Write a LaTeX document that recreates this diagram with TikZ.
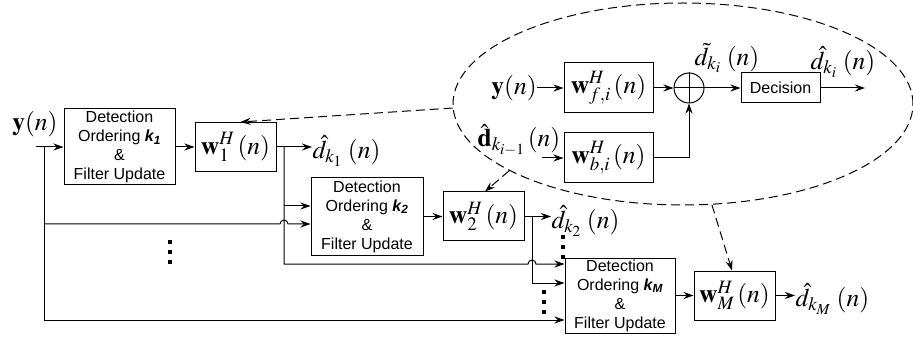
\documentclass[tikz,border=0pt]{standalone}
\usepackage{mathptmx}
\usepackage[no-math]{fontspec}
\setsansfont{Liberation Sans}
\usepackage{tikz}
\usetikzlibrary{positioning, shapes.geometric, arrows.meta, calc}

\newcommand{\eqsize}{\fontsize{25.5}{29}\selectfont}
\newcommand{\kk}[1]{{\bfseries\itshape k\textsubscript{#1}}}

\begin{document}
\begin{tikzpicture}[
        x=1pt, y=-1pt,
        line width=1pt,
        every node/.style={inner sep=0pt},
        detbox/.style={draw, font=\fontsize{16}{19}\selectfont\sffamily, align=center, minimum width=111, minimum height=76},
        wbox/.style={draw, font=\eqsize, minimum width=81, minimum height=49},
        decbox/.style={draw, font=\fontsize{16}{19}\selectfont\sffamily, minimum width=79, minimum height=30},
        sumc/.style={draw, circle, minimum size=30},
        lab/.style={font=\eqsize},
        arr/.style={-{Stealth[length=10pt, width=7pt]}},
        dsh/.style={dash pattern=on 9pt off 5pt}
    ]
    \useasboundingbox (0,0) rectangle (913,339);

    % Nodes -----------------------------------------------
    \node[lab] (yn) at (35,124) {$\mathbf{y}(n)$};
    \node[detbox] (det1) at (119.5,147) {Detection\\Ordering \kk{1}\\\&\\Filter Update};
    \node[wbox] (w1) at (235.5,147) {$\mathbf{w}_1^H\,(n)$};
    \node[detbox, minimum width=112, minimum height=77] (det2) at (367,216.5) {Detection\\Ordering \kk{2}\\\&\\Filter Update};
    \node[wbox] (w2) at (483.5,216.5) {$\mathbf{w}_2^H\,(n)$};
    \node[detbox, minimum width=110, minimum height=75] (detM) at (620,295.5) {Detection\\Ordering \kk{M}\\\&\\Filter Update};
    \node[wbox] (wM) at (734.5,295.5) {$\mathbf{w}_M^H\,(n)$};

    \node[lab, anchor=west] (dk1) at (312,151) {$\hat{d}_{k_1}\;(n)$};
    \node[lab, anchor=west] (dk2) at (551,221) {$\hat{d}_{k_2}\;(n)$};
    \node[lab, anchor=west] (dkM) at (795,299) {$\hat{d}_{k_M}\;(n)$};

    % bus taps and inputs
    \coordinate (yin) at (36,147);
    \coordinate (busA) at (44,147);
    \coordinate (busB) at (284,147);
    \coordinate (busC) at (532,216.5);
    \coordinate (in2a) at ($(det2.west)+(0,-10.5)$);
    \coordinate (in2b) at ($(det2.west)+(0,7.5)$);
    \coordinate (inMa) at ($(detM.west)+(0,-31.5)$);
    \coordinate (inMb) at ($(detM.west)+(0,-12.5)$);
    \coordinate (inMc) at ($(detM.west)+(0,24.5)$);

    % main chain
    \draw[arr] (yin) -- (det1.west);
    \draw[arr] (det1) -- (w1);
    \draw[arr] (det2) -- (w2);
    \draw[arr] (detM) -- (wM);
    \draw[arr] (w1.east) -- (w1.east -| dk1.west);
    \draw[arr] (w2.east) -- (w2.east -| dk2.west);
    \draw[arr] (wM.east) -- (wM.east -| dkM.west);

    % feed lines
    \draw[arr] (busA) |- (inMc);
    \draw[arr] (busA |- in2b) -- ($(busB |- in2b)+(-4,0)$) arc[start angle=180, end angle=0, radius=4pt] -- (in2b);
    \draw[arr] (busB |- in2a) -- (in2a);
    \draw[arr] (busB) |- ($(busC |- inMa)+(-4,0)$) arc[start angle=180, end angle=0, radius=4pt] -- (inMa);
    \draw[arr] (busC) |- (inMb);

    % dots
    \foreach \x/\y in {170/242, 544/292, 563/237}
        \foreach \d in {0,10,20}
            \fill (\x-1.75,\y+\d-1.75) rectangle ++(3.5,3.5);

    % detail of one stage -----------------------------------
    \node[draw, dsh, ellipse, minimum width=460, minimum height=202] (detail) at (683,104) {};
    \node[lab] (yi) at (514,88) {$\mathbf{y}(n)$};
    \node[wbox, minimum width=89, minimum height=50] (wf) at (608.5,88) {$\mathbf{w}_{f,i}^H\,(n)$};
    \node[wbox, minimum width=89, minimum height=50] (wb) at (608.5,158) {$\mathbf{w}_{b,i}^H\,(n)$};
    \node[lab] (dprev) at (519,140) {$\hat{\mathbf{d}}_{k_{i-1}}\,(n)$};
    \coordinate (bin) at (542,158);
    \node[sumc] (sum) at (689,88) {};
    \node[decbox] (dec) at (780.5,88) {Decision};
    \coordinate (dout) at (865,88);
    \node[lab] (dtil) at (727,58) {$\tilde{d}_{k_i}\;(n)$};
    \node[lab] (dhat) at (843,62) {$\hat{d}_{k_i}\;(n)$};

    \draw (sum.north) -- (sum.south) (sum.west) -- (sum.east);
    \draw[arr] (yi) -- (wf);
    \draw[arr] (wf) -- (sum);
    \draw[arr] (sum) -- (dec);
    \draw[arr] (dec) -- (dout);
    \draw[arr] (bin) -- (wb);
    \draw[arr] (wb) -| (sum);

    % links from the detail to the stages
    \draw[arr, dsh] (detail.181) -- ([xshift=5pt]w1.north);
    \draw[arr, dsh] (detail.201.5) -- ([xshift=1.5pt]w2.north);
    \draw[arr, dsh] (detail.286.5) -- ([xshift=-2.5pt]wM.north);
\end{tikzpicture}
\end{document}
